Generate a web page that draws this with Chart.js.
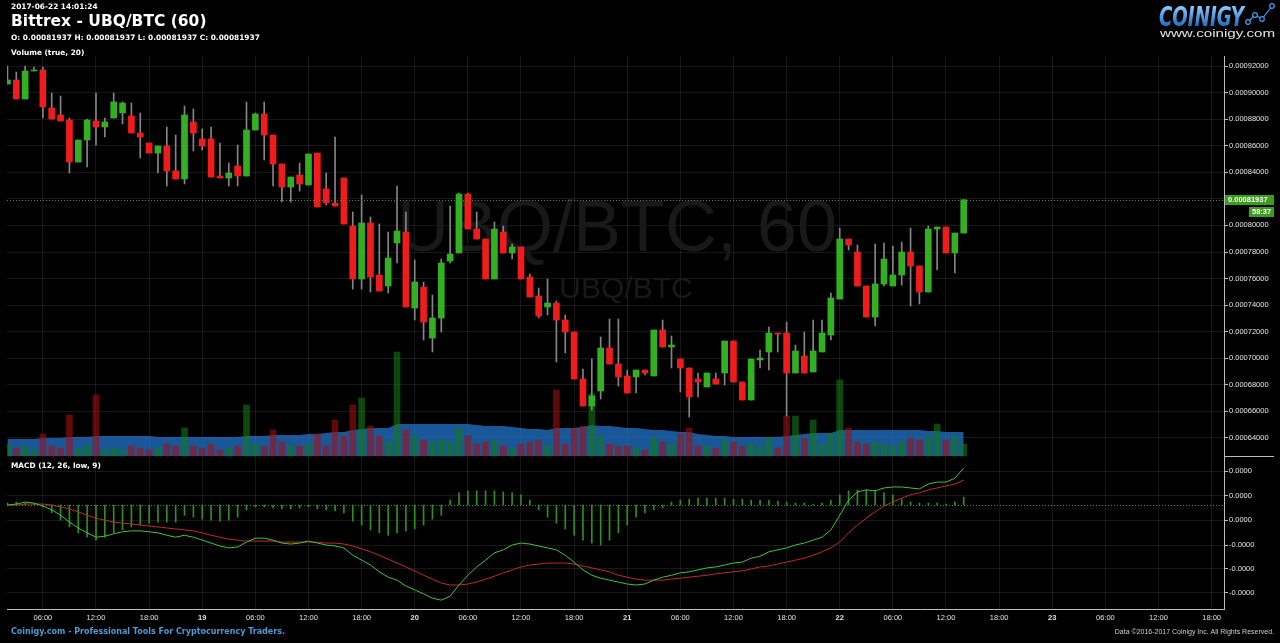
<!DOCTYPE html>
<html>
<head>
<meta charset="utf-8">
<script src="https://cdn.jsdelivr.net/npm/chart.js@4.4.0/dist/chart.umd.min.js"></script>
<style>
  html, body { margin: 0; padding: 0; background: #000; }
  canvas { display: block; }
</style>
</head>
<body>
<canvas id="chart" width="1280" height="643"></canvas>
<script>
// Bittrex UBQ/BTC, 1h candles, first candle 2017-06-18 02:00
const firstHour = 2; // hours after 2017-06-18 00:00

const open = [
  0.00090645, 0.00090946, 0.00089516, 0.00091624, 0.00091699, 0.00088839, 0.00088312, 0.00087935, 0.00084774, 0.00086430,
  0.00087860, 0.00087409, 0.00088086, 0.00088463, 0.00088237, 0.00086957, 0.00086204, 0.00085451, 0.00085978, 0.00084097,
  0.00083495, 0.00087785, 0.00086505, 0.00086505, 0.00083720, 0.00083570, 0.00084473, 0.00083720, 0.00087183, 0.00088387,
  0.00086806, 0.00084624, 0.00082893, 0.00083796, 0.00083043, 0.00085451, 0.00082742, 0.00081688, 0.00083570, 0.00079957,
  0.00075967, 0.00080183, 0.00076269, 0.00075441, 0.00078677, 0.00079505, 0.00073785, 0.00075366, 0.00071527, 0.00073032,
  0.00077322, 0.00077925, 0.00082365, 0.00079731, 0.00078978, 0.00075967, 0.00079505, 0.00077925, 0.00078376, 0.00076118,
  0.00074688, 0.00073860, 0.00074161, 0.00072881, 0.00071978, 0.00068441, 0.00066408, 0.00067538, 0.00070774, 0.00069570,
  0.00068667, 0.00068591, 0.00069118, 0.00068667, 0.00072129, 0.00070849, 0.00069946, 0.00069269, 0.00068441, 0.00067839,
  0.00068441, 0.00068893, 0.00071301, 0.00068215, 0.00066860, 0.00069871, 0.00070473, 0.00071903, 0.00071903, 0.00068893,
  0.00070172, 0.00068968, 0.00070473, 0.00071753, 0.00074462, 0.00078978, 0.00078000, 0.00075441, 0.00073107, 0.00075591,
  0.00075441, 0.00076269, 0.00078000, 0.00076946, 0.00074989, 0.00079731, 0.00079882, 0.00077925, 0.00079430
];
const high = [
  0.00092000, 0.00091548, 0.00092000, 0.00091925, 0.00091925, 0.00089968, 0.00089742, 0.00088086, 0.00086430, 0.00088011,
  0.00089968, 0.00088086, 0.00089968, 0.00089290, 0.00089215, 0.00088463, 0.00086204, 0.00085978, 0.00087409, 0.00086806,
  0.00088989, 0.00088763, 0.00087258, 0.00087409, 0.00086204, 0.00084699, 0.00086053, 0.00089290, 0.00088463, 0.00089290,
  0.00086806, 0.00084624, 0.00083645, 0.00084699, 0.00085376, 0.00085451, 0.00083946, 0.00086656, 0.00083570, 0.00081011,
  0.00082290, 0.00080635, 0.00080108, 0.00079505, 0.00082968, 0.00081011, 0.00077398, 0.00075742, 0.00074763, 0.00077473,
  0.00081462, 0.00082441, 0.00082441, 0.00081011, 0.00078978, 0.00080258, 0.00079957, 0.00078602, 0.00078376, 0.00076344,
  0.00075290, 0.00075967, 0.00074312, 0.00073258, 0.00071978, 0.00069194, 0.00069946, 0.00071602, 0.00072957, 0.00072957,
  0.00069118, 0.00069118, 0.00069118, 0.00072129, 0.00072881, 0.00071677, 0.00069946, 0.00069269, 0.00068893, 0.00068893,
  0.00068893, 0.00071301, 0.00071301, 0.00068215, 0.00069946, 0.00070623, 0.00072355, 0.00071903, 0.00072731, 0.00071000,
  0.00071978, 0.00072881, 0.00072881, 0.00074914, 0.00079806, 0.00078978, 0.00078527, 0.00075441, 0.00078602, 0.00078677,
  0.00078452, 0.00078753, 0.00079806, 0.00076946, 0.00079957, 0.00079882, 0.00079882, 0.00079430, 0.00081937
];
const low = [
  0.00090645, 0.00089516, 0.00089516, 0.00091624, 0.00088086, 0.00088011, 0.00087860, 0.00083946, 0.00084774, 0.00084398,
  0.00086053, 0.00086656, 0.00088086, 0.00087634, 0.00086957, 0.00085075, 0.00085451, 0.00083946, 0.00082968, 0.00083495,
  0.00083118, 0.00085602, 0.00085677, 0.00083645, 0.00083570, 0.00082968, 0.00082968, 0.00083720, 0.00087183, 0.00084925,
  0.00082968, 0.00081763, 0.00081763, 0.00082591, 0.00083043, 0.00081387, 0.00081537, 0.00081462, 0.00080108, 0.00075215,
  0.00075215, 0.00074989, 0.00075064, 0.00074914, 0.00077172, 0.00073860, 0.00072881, 0.00071376, 0.00070473, 0.00071978,
  0.00077172, 0.00077925, 0.00079731, 0.00078978, 0.00075967, 0.00075967, 0.00077925, 0.00077473, 0.00075967, 0.00074613,
  0.00073032, 0.00073258, 0.00069720, 0.00070398, 0.00068441, 0.00066408, 0.00066107, 0.00066935, 0.00069570, 0.00067914,
  0.00067387, 0.00067387, 0.00068742, 0.00068667, 0.00070849, 0.00069269, 0.00067462, 0.00065580, 0.00067086, 0.00067839,
  0.00068064, 0.00067989, 0.00068215, 0.00066860, 0.00066860, 0.00069269, 0.00069118, 0.00070473, 0.00065656, 0.00068893,
  0.00068893, 0.00068968, 0.00070473, 0.00071376, 0.00074462, 0.00078150, 0.00075441, 0.00073107, 0.00072430, 0.00075441,
  0.00075441, 0.00075516, 0.00073935, 0.00074086, 0.00074989, 0.00076645, 0.00077925, 0.00076419, 0.00079430
];
const close = [
  0.00090946, 0.00089516, 0.00091624, 0.00091699, 0.00088914, 0.00088011, 0.00087860, 0.00084774, 0.00086430, 0.00087935,
  0.00087409, 0.00087785, 0.00089290, 0.00089215, 0.00086957, 0.00086656, 0.00085451, 0.00085978, 0.00084097, 0.00083495,
  0.00088312, 0.00086957, 0.00085978, 0.00083645, 0.00083570, 0.00083946, 0.00083720, 0.00087183, 0.00088387, 0.00086806,
  0.00084624, 0.00082893, 0.00083645, 0.00083118, 0.00085376, 0.00081387, 0.00081688, 0.00081462, 0.00080108, 0.00075967,
  0.00080183, 0.00076118, 0.00075064, 0.00077548, 0.00079581, 0.00073860, 0.00075742, 0.00072731, 0.00073032, 0.00077172,
  0.00077849, 0.00082365, 0.00079731, 0.00078978, 0.00075967, 0.00079731, 0.00077925, 0.00078376, 0.00075967, 0.00074613,
  0.00073183, 0.00074161, 0.00072881, 0.00071978, 0.00068441, 0.00066408, 0.00067161, 0.00070774, 0.00069570, 0.00068591,
  0.00067387, 0.00069118, 0.00068893, 0.00072129, 0.00070849, 0.00071000, 0.00069269, 0.00067086, 0.00068215, 0.00068893,
  0.00068064, 0.00071301, 0.00068215, 0.00066860, 0.00069946, 0.00070021, 0.00071903, 0.00071828, 0.00068893, 0.00070548,
  0.00068893, 0.00070548, 0.00071903, 0.00074537, 0.00078978, 0.00078527, 0.00075441, 0.00073107, 0.00075591, 0.00077473,
  0.00076269, 0.00078000, 0.00076946, 0.00074989, 0.00079731, 0.00079882, 0.00077925, 0.00079430, 0.00081937
];

const volume = [
  0.6, 0.4, 0.5, 0.3, 1.1, 0.5, 0.4, 2.05, 0.4, 0.5,
  3.05, 0.3, 0.4, 0.3, 0.5, 0.4, 0.3, 0.4, 0.6, 0.5,
  1.4, 0.5, 0.4, 0.6, 0.3, 0.4, 0.5, 2.55, 0.6, 0.5,
  1.3, 0.7, 0.5, 0.5, 0.6, 1.1, 0.5, 1.8, 1.0, 2.55,
  2.9, 1.5, 1.0, 0.7, 5.2, 1.3, 1.0, 0.8, 0.7, 0.8,
  0.7, 1.4, 1.0, 0.6, 0.7, 0.8, 0.5, 0.4, 0.6, 0.7,
  0.8, 0.5, 3.3, 0.6, 1.4, 1.5, 3.1, 1.0, 0.6, 0.5,
  0.5, 0.4, 0.3, 0.9, 0.7, 0.6, 1.1, 1.4, 0.5, 0.5,
  0.4, 0.8, 0.7, 0.5, 0.6, 0.5, 0.9, 0.4, 2.0, 2.0,
  0.9, 1.8, 0.6, 1.1, 3.8, 1.4, 0.7, 0.6, 0.7, 0.6,
  0.5, 0.7, 0.9, 0.8, 1.0, 1.6, 0.8, 1.0, 0.6
];
const volumeMA = [
  0.85, 0.85, 0.85, 0.85, 0.9, 0.9, 0.9, 0.95, 0.95, 0.95,
  1.0, 1.0, 1.0, 1.0, 1.0, 1.0, 1.0, 0.95, 0.95, 0.95,
  0.95, 0.95, 0.95, 0.95, 0.95, 0.95, 0.95, 1.0, 1.0, 1.0,
  1.05, 1.05, 1.05, 1.05, 1.1, 1.1, 1.15, 1.2, 1.2, 1.3,
  1.35, 1.4, 1.4, 1.4, 1.6, 1.6, 1.6, 1.6, 1.6, 1.6,
  1.6, 1.6, 1.6, 1.55, 1.5, 1.5, 1.5, 1.45, 1.4, 1.35,
  1.35, 1.3, 1.4, 1.4, 1.4, 1.45, 1.55, 1.5, 1.5, 1.45,
  1.4, 1.4, 1.35, 1.3, 1.3, 1.25, 1.2, 1.2, 1.1, 1.05,
  1.0, 1.0, 0.95, 0.95, 0.95, 0.95, 0.95, 0.95, 1.0, 1.05,
  1.1, 1.15, 1.15, 1.15, 1.3, 1.3, 1.3, 1.3, 1.3, 1.3,
  1.3, 1.3, 1.3, 1.3, 1.25, 1.25, 1.2, 1.2, 1.2
];

// MACD (12, 26, 9) in micro-BTC
const macdLine = [
  0, 0.2, 0.6, 0.4, -0.2, -1.0, -2.1, -3.5, -4.7, -5.7,
  -6.6, -6.4, -5.9, -5.5, -5.3, -5.3, -5.5, -5.7, -6.2, -6.6,
  -6.2, -6.6, -7.2, -7.8, -8.4, -8.8, -8.6, -7.6, -6.8, -6.8,
  -7.2, -7.8, -8.0, -7.8, -7.4, -7.8, -8.2, -8.4, -8.8, -10.3,
  -11.3, -12.3, -13.7, -14.8, -15.4, -16.6, -17.4, -18.2, -19.1, -19.5,
  -18.7, -16.4, -14.4, -12.7, -11.3, -9.8, -9.2, -8.2, -7.8, -8.0,
  -8.4, -8.8, -9.2, -10.3, -11.7, -13.3, -14.4, -15.0, -15.4, -15.8,
  -16.2, -16.4, -16.2, -15.4, -14.8, -14.4, -13.9, -13.7, -13.3, -12.9,
  -12.7, -12.3, -11.9, -11.7, -10.9, -10.5, -9.6, -9.2, -8.8, -8.2,
  -7.8, -7.2, -6.6, -5.1, -2.1, 1.0, 2.7, 3.1, 2.9, 3.5,
  3.7, 3.7, 3.5, 3.3, 4.3, 4.7, 4.7, 5.5, 7.6
];
const macdSignal = [
  0, 0, 0.2, 0.2, 0.2, 0, -0.4, -0.8, -1.4, -2.1,
  -2.7, -3.1, -3.5, -3.7, -3.9, -4.1, -4.3, -4.5, -4.7, -4.9,
  -5.1, -5.3, -5.7, -6.2, -6.6, -7.0, -7.2, -7.4, -7.4, -7.4,
  -7.4, -7.6, -7.6, -7.6, -7.6, -7.6, -7.8, -7.8, -8.0, -8.4,
  -9.0, -9.6, -10.3, -11.1, -11.9, -12.7, -13.5, -14.4, -15.2, -16.0,
  -16.4, -16.4, -16.2, -15.8, -15.2, -14.6, -13.9, -13.3, -12.7, -12.3,
  -12.1, -11.9, -11.9, -11.9, -12.1, -12.5, -12.9, -13.3, -13.7, -14.4,
  -14.8, -15.2, -15.4, -15.4, -15.4, -15.2, -15.0, -14.8, -14.6, -14.4,
  -14.1, -13.9, -13.7, -13.5, -13.1, -12.7, -12.5, -12.1, -11.7, -11.3,
  -10.9, -10.3, -9.6, -8.8, -7.6, -5.7, -4.1, -2.7, -1.4, -0.2,
  0.6, 1.4, 2.1, 2.5, 3.1, 3.5, 3.9, 4.3, 5.1
];
const macdHist = [
  0.4, 0.6, 0.4, 0.2, -0.4, -1.6, -3.1, -4.5, -5.7, -6.6,
  -7.2, -6.6, -5.7, -5.1, -4.5, -4.1, -3.7, -3.5, -3.5, -3.5,
  -2.1, -2.5, -2.9, -3.1, -3.3, -3.1, -2.5, -1.0, -0.4, -0.4,
  -0.6, -0.8, -0.8, -0.6, -0.4, -0.8, -1.0, -1.2, -1.6, -3.3,
  -4.1, -5.1, -5.7, -6.2, -5.7, -5.3, -4.9, -4.1, -2.9, -2.1,
  1.0, 2.5, 2.9, 2.9, 2.9, 2.9, 2.7, 2.5, 2.1, 1.0,
  -1.0, -2.5, -3.7, -4.9, -6.2, -7.2, -7.8, -8.2, -7.2, -5.7,
  -4.1, -2.5, -1.6, -1.0, -0.6, 0.6, 1.0, 1.2, 1.4, 1.4,
  1.4, 1.4, 1.2, 1.2, 1.0, 1.0, 1.0, 0.8, 0.6, 0.4,
  0.4, 0.2, 0.4, 1.0, 2.1, 2.9, 3.1, 3.1, 2.9, 2.5,
  2.1, 1.2, 0.6, 0.4, 0.4, 0.4, 0.2, 0.6, 1.6
];

// axis ticks
const priceTicks = [0.00064, 0.00066, 0.00068, 0.00070, 0.00072, 0.00074, 0.00076, 0.00078,
  0.00080, 0.00082, 0.00084, 0.00086, 0.00088, 0.00090, 0.00092];
const macdTicks = [6.97, 1.85, -3.08, -8.2, -13.1, -18.0];
const macdTickLabels = ['0.0000', '0.0000', '0.0000', '-0.0000', '-0.0000', '-0.0000'];
const xTickHours = [6, 12, 18, 24, 30, 36, 42, 48, 54, 60, 66, 72, 78, 84, 90, 96, 102, 108, 114, 120, 126, 132, 138];
const xTickLabels = ['06:00', '12:00', '18:00', '19', '06:00', '12:00', '18:00', '20', '06:00', '12:00', '18:00', '21',
  '06:00', '12:00', '18:00', '22', '06:00', '12:00', '18:00', '23', '06:00', '12:00', '18:00'];

const lastPrice = 0.00081937;
const macdLevel = 0;

const hours = open.map((_, i) => firstHour + i);
const isUp = open.map((o, i) => close[i] >= o);
const upColor = '#33b022';
const downColor = '#f01c1c';
const gridColor = 'rgba(255,255,255,0.09)';
const axisColor = '#bdbdbd';
const labelFont = '"Liberation Sans", Arial, sans-serif';
const boldFont = '"DejaVu Sans", Verdana, sans-serif';

Chart.defaults.font.family = labelFont;
Chart.defaults.color = '#e0e0e0';

const decor = {
  id: 'decor',
  beforeDatasetsDraw(chart) {
    const ctx = chart.ctx;
    ctx.save();
    ctx.fillStyle = '#191919';
    ctx.textAlign = 'center';
    ctx.textBaseline = 'middle';
    ctx.font = '72px ' + labelFont;
    ctx.fillText('UBQ/BTC, 60', 617, 231);
    ctx.font = '30px ' + labelFont;
    ctx.fillText('UBQ/BTC', 626, 290);
    ctx.restore();
  },
  afterDatasetsDraw(chart) {
    const {ctx, chartArea, scales} = chart;
    ctx.save();
    ctx.lineWidth = 1;
    ctx.setLineDash([1, 2]);
    ctx.strokeStyle = '#2e9a20';
    const py = Math.round(scales.y.getPixelForValue(lastPrice)) + 0.5;
    ctx.beginPath();
    ctx.moveTo(chartArea.left, py);
    ctx.lineTo(chartArea.right, py);
    ctx.stroke();
    const my = Math.round(scales.ym.getPixelForValue(macdLevel)) + 0.5;
    ctx.beginPath();
    ctx.moveTo(chartArea.left, my);
    ctx.lineTo(chartArea.right, my);
    ctx.stroke();
    ctx.restore();
  },
  afterDraw(chart) {
    const {ctx, chartArea, scales} = chart;
    ctx.save();
    ctx.textBaseline = 'middle';
    ctx.textAlign = 'left';
    ctx.fillStyle = '#ffffff';
    ctx.font = 'bold 7.4px ' + boldFont;
    ctx.fillText('2017-06-22 14:01:24', 11, 7);
    ctx.fillText('O: 0.00081937 H: 0.00081937 L: 0.00081937 C: 0.00081937', 11, 38);
    ctx.fillText('Volume (true, 20)', 11, 53);
    ctx.fillText('MACD (12, 26, low, 9)', 11, 466);
    ctx.font = 'bold 15.5px ' + boldFont;
    ctx.fillText('Bittrex - UBQ/BTC (60)', 11, 22);

    // footer
    ctx.font = 'bold 8px ' + boldFont;
    ctx.fillStyle = '#4a9ad6';
    ctx.fillText('Coinigy.com - Professional Tools For Cryptocurrency Traders.', 11, 632);
    ctx.font = '7px ' + labelFont;
    ctx.fillStyle = '#cfcfcf';
    ctx.textAlign = 'right';
    ctx.fillText('Data \u00a92016-2017 Coinigy Inc. All Rights Reserved.', 1274, 632);

    // pane separator on the axis side
    ctx.strokeStyle = axisColor;
    ctx.lineWidth = 1;
    const sep = Math.round(scales.ym.top) + 0.5;
    ctx.beginPath();
    ctx.moveTo(chartArea.right, sep);
    ctx.lineTo(1274, sep);
    ctx.stroke();

    // last price tag and candle countdown
    const py = Math.round(scales.y.getPixelForValue(lastPrice));
    ctx.fillStyle = '#3a9d1c';
    ctx.fillRect(chartArea.right + 1, py - 5, 49, 10);
    ctx.fillRect(chartArea.right + 25, py + 7, 25, 10);
    ctx.fillStyle = '#ffffff';
    ctx.textAlign = 'left';
    ctx.font = 'bold 7.5px ' + labelFont;
    ctx.fillText(lastPrice.toFixed(8), chartArea.right + 4, py);
    ctx.fillText('58:37', chartArea.right + 28, py + 12);

    // logo
    ctx.save();
    ctx.font = 'italic bold 27px "DejaVu Sans Condensed", "Liberation Sans Narrow", ' + labelFont;
    const w = ctx.measureText('COINIGY').width;
    ctx.translate(1159, 26);
    ctx.scale(85 / w, 1);
    const g = ctx.createLinearGradient(0, -21, 0, 0);
    g.addColorStop(0, '#8fd0ff');
    g.addColorStop(1, '#1d6fc6');
    ctx.fillStyle = g;
    ctx.textBaseline = 'alphabetic';
    ctx.fillText('COINIGY', 0, 0);
    ctx.restore();
    const pts = [[1248, 22], [1255, 15], [1262, 19], [1272, 6]];
    ctx.strokeStyle = '#3d9be9';
    ctx.lineWidth = 1.2;
    ctx.beginPath();
    pts.forEach((p, i) => i ? ctx.lineTo(p[0], p[1]) : ctx.moveTo(p[0], p[1]));
    ctx.stroke();
    pts.forEach(p => {
      ctx.beginPath();
      ctx.arc(p[0], p[1], 2.3, 0, Math.PI * 2);
      ctx.fillStyle = '#000';
      ctx.fill();
      ctx.stroke();
    });
    ctx.save();
    ctx.font = '11.5px ' + labelFont;
    const w2 = ctx.measureText('www.coinigy.com').width;
    ctx.translate(1160, 34);
    ctx.scale(115 / w2, 1);
    ctx.fillStyle = '#e4e4e4';
    ctx.textAlign = 'left';
    ctx.textBaseline = 'middle';
    ctx.fillText('www.coinigy.com', 0, 0);
    ctx.restore();

    ctx.restore();
  }
};

new Chart(document.getElementById('chart'), {
  type: 'bar',
  data: {
    datasets: [
      {
        label: 'Bodies',
        data: hours.map((h, i) => ({x: h, y: [open[i], close[i]]})),
        backgroundColor: isUp.map(u => u ? upColor : downColor),
        barThickness: 6,
        minBarLength: 1,
        grouped: false,
        yAxisID: 'y',
        order: 1
      },
      {
        label: 'Wicks',
        data: hours.map((h, i) => ({x: h, y: [low[i], high[i]]})),
        backgroundColor: '#858585',
        barThickness: 1,
        grouped: false,
        yAxisID: 'y',
        order: 2
      },
      {
        label: 'Volume',
        data: hours.map((h, i) => ({x: h, y: volume[i]})),
        backgroundColor: isUp.map(u => u ? 'rgba(20,120,20,0.6)' : 'rgba(160,15,15,0.6)'),
        barThickness: 6,
        grouped: false,
        yAxisID: 'yv',
        order: 3
      },
      {
        type: 'line',
        label: 'Volume MA',
        data: hours.map((h, i) => ({x: h, y: volumeMA[i]})),
        fill: 'origin',
        backgroundColor: 'rgba(35,120,210,0.72)',
        borderWidth: 0,
        pointRadius: 0,
        yAxisID: 'yv',
        order: 4
      },
      {
        label: 'Histogram',
        data: hours.map((h, i) => ({x: h, y: macdHist[i]})),
        backgroundColor: '#2f8f1f',
        barThickness: 1,
        grouped: false,
        yAxisID: 'ym',
        order: 7
      },
      {
        type: 'line',
        label: 'Signal',
        data: hours.map((h, i) => ({x: h, y: macdSignal[i]})),
        borderColor: '#c42a20',
        borderWidth: 1,
        pointRadius: 0,
        yAxisID: 'ym',
        order: 6
      },
      {
        type: 'line',
        label: 'MACD',
        data: hours.map((h, i) => ({x: h, y: macdLine[i]})),
        borderColor: '#3ec43a',
        borderWidth: 1,
        pointRadius: 0,
        yAxisID: 'ym',
        order: 5
      }
    ]
  },
  options: {
    responsive: false,
    animation: false,
    layout: { padding: { left: 7, top: 56, right: 0, bottom: 22 } },
    plugins: { legend: { display: false }, tooltip: { enabled: false } },
    scales: {
      x: {
        type: 'linear',
        offset: false,
        min: 1.95,
        max: 139.4,
        afterBuildTicks: s => { s.ticks = xTickHours.map(v => ({value: v})); },
        afterFit: s => { s.height = 12; },
        ticks: {
          callback: (v, i) => xTickLabels[i],
          autoSkip: false,
          maxRotation: 0,
          padding: 4,
          color: '#e0e0e0',
          font: c => ({ size: 7.5, weight: c.tick && c.tick.value % 24 === 0 ? 'bold' : 'normal' })
        },
        grid: { color: gridColor, drawTicks: false, offset: false },
        border: { color: axisColor }
      },
      y: {
        position: 'right',
        stack: 'panes',
        stackWeight: 400,
        min: 0.00062645,
        max: 0.00092753,
        afterBuildTicks: s => { s.ticks = priceTicks.map(v => ({value: v})); },
        afterFit: s => { s.width = 56; },
        ticks: { callback: v => v.toFixed(8), padding: 1, color: '#e6e6e6', font: { size: 7.5 } },
        grid: { color: gridColor, tickLength: 4, tickColor: axisColor },
        border: { color: axisColor }
      },
      ym: {
        position: 'right',
        stack: 'panes',
        stackWeight: 153,
        min: -21.32,
        max: 10.05,
        afterBuildTicks: s => { s.ticks = macdTicks.map(v => ({value: v})); },
        afterFit: s => { s.width = 56; },
        ticks: { callback: (v, i) => macdTickLabels[i], padding: 1, color: '#e6e6e6', font: { size: 7.5 } },
        grid: { color: gridColor, tickLength: 4, tickColor: axisColor },
        border: { color: axisColor }
      },
      yv: {
        display: false,
        min: -7.65,
        max: 20
      }
    }
  },
  plugins: [decor]
});
</script>
</body>
</html>
